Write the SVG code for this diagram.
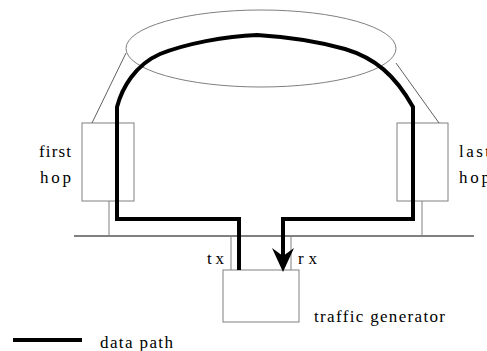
<svg xmlns="http://www.w3.org/2000/svg" width="487" height="351" viewBox="0 0 487 351">
<style>
.box{fill:#fff;stroke:#808080;stroke-width:1}
.thin{stroke:#606060;stroke-width:1;fill:none}
.grey{stroke:#808080;stroke-width:1;fill:none}
.bus{stroke:#000;stroke-width:1;fill:none}
.thick{stroke:#000;stroke-width:4;fill:none;stroke-linejoin:miter}
text{font-family:"Liberation Serif","Times New Roman",serif;font-size:17px;fill:#000}
</style>
<rect width="487" height="351" fill="#fff"/>
<g id="cloud"><ellipse cx="261" cy="48.5" rx="135" ry="38.5" class="grey"/></g>
<g id="first-hop"><rect x="82" y="123" width="52" height="78" class="box"/><text x="39" y="157" textLength="32" lengthAdjust="spacing">first</text><text x="40" y="183" textLength="31" lengthAdjust="spacing">hop</text></g>
<g id="last-hop"><rect x="397" y="123" width="51" height="78" class="box"/><text x="459" y="157" textLength="31" lengthAdjust="spacing">last</text><text x="459" y="183" textLength="31" lengthAdjust="spacing">hop</text></g>
<g id="traffic-generator"><rect x="223" y="270" width="76" height="52" class="box"/><text x="314" y="322" textLength="131" lengthAdjust="spacing">traffic generator</text></g>
<g id="connectors">
<line x1="92" y1="123" x2="126" y2="53" class="thin"/>
<line x1="439" y1="123" x2="396" y2="63" class="thin"/>
<line x1="74" y1="236" x2="474" y2="236" class="bus"/>
<line x1="109" y1="201" x2="109" y2="236" class="grey"/>
<line x1="422" y1="201" x2="422" y2="236" class="grey"/>
<line x1="231" y1="236" x2="231" y2="270" class="grey"/>
<line x1="291" y1="236" x2="291" y2="270" class="grey"/>
<path d="M239,270 V219 H117 V107 C122,88 135,65 160,54 C185,44 225,36 257,35 C290,37 320,42 345,49 C375,58 395,75 413,107 V219 H283 V258" class="thick"/>
<polygon points="272,248 283,256 294,248 283,272" fill="#000"/>
<text x="224" y="264" text-anchor="end" textLength="17" lengthAdjust="spacing">tx</text>
<text x="298" y="264" textLength="19" lengthAdjust="spacing">rx</text>
</g>
<g id="legend"><line x1="13" y1="340" x2="82" y2="340" class="thick"/><text x="100" y="348" textLength="73" lengthAdjust="spacing">data path</text></g>
</svg>
